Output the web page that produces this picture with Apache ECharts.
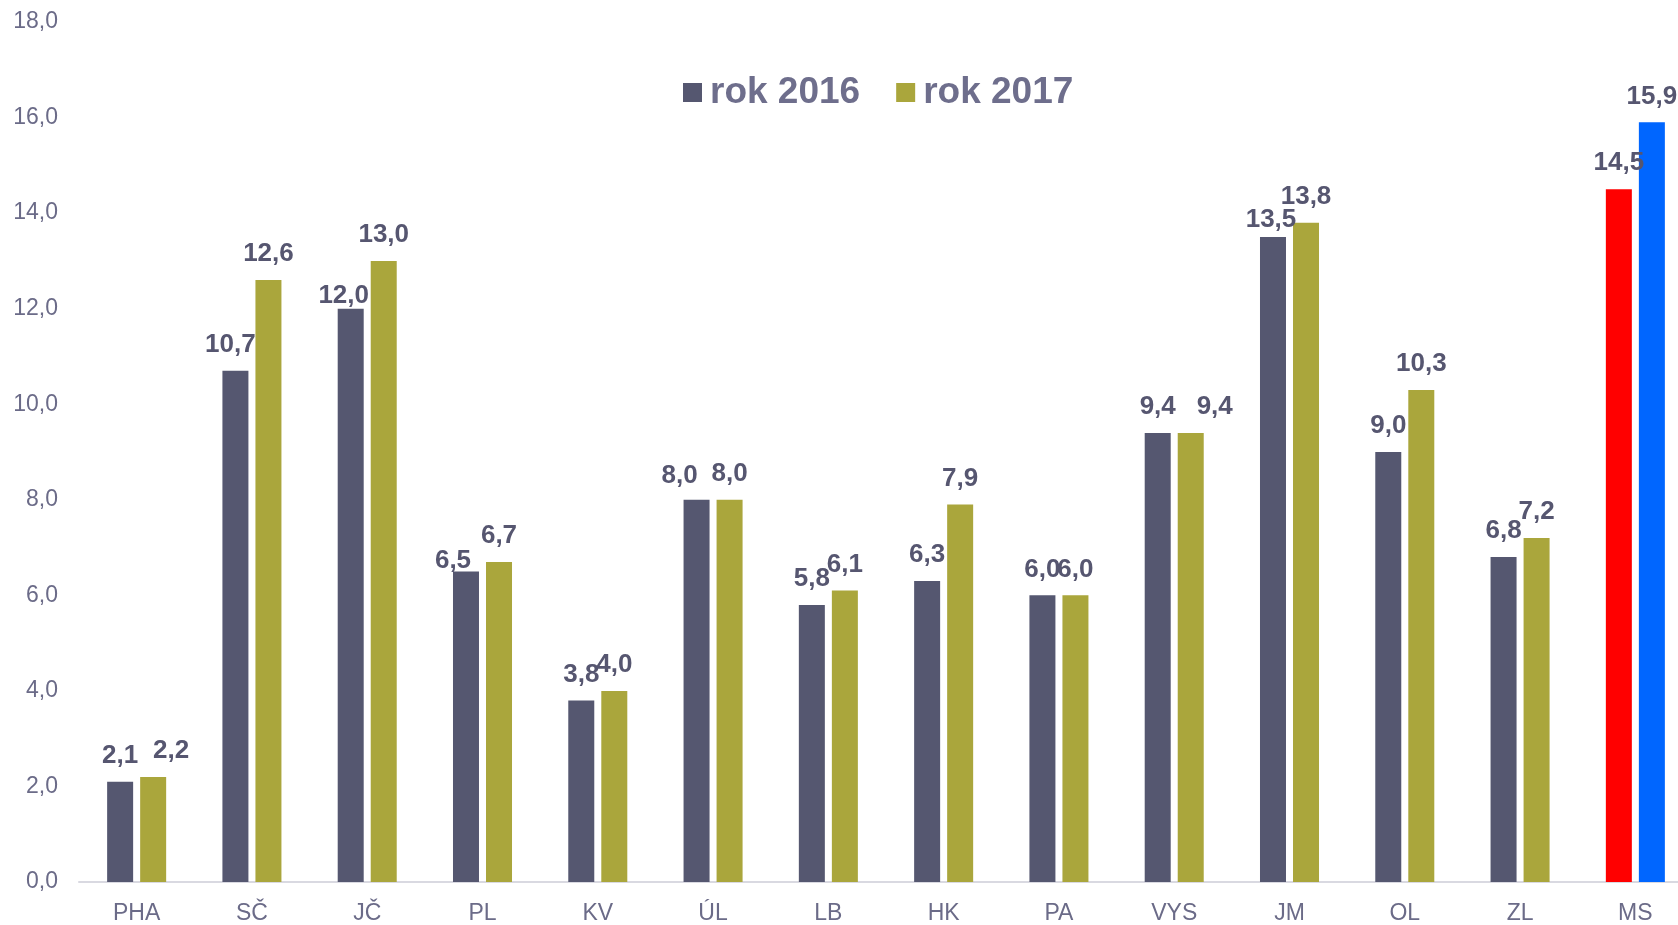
<!DOCTYPE html>
<html>
<head>
<meta charset="utf-8">
<script src="https://cdn.jsdelivr.net/npm/echarts@6/dist/echarts.min.js"></script>
<style>
html,body{margin:0;padding:0;background:#fff;overflow:hidden;}
#chart{width:1700px;height:925px;}
</style>
</head>
<body>
<div id="chart"></div>
<script>
var categories = ['PHA','SČ','JČ','PL','KV','ÚL','LB','HK','PA','VYS','JM','OL','ZL','MS'];
var values2016 = [2.1,10.7,12.0,6.5,3.8,8.0,5.8,6.3,6.0,9.4,13.5,9.0,6.8,14.5];
var values2017 = [2.2,12.6,13.0,6.7,4.0,8.0,6.1,7.9,6.0,9.4,13.8,10.3,7.2,15.9];
var seriesNames = ['rok 2016','rok 2017'];
var yTicks = [0,2,4,6,8,10,12,14,16,18];

// manual label nudges seen in the reference (style only): series -> {categoryIndex: [dx, dy]}
var labelNudges = [
  { 1: [-5, 0], 2: [-7, 13], 3: [-13, 15], 5: [-17, 2], 10: [-2, 9] },
  { 0: [18, 0], 9: [24, 0] }
];
var highlightColors = ['#ff0000', '#0066ff'];

var FONT = '"Liberation Sans", Arial, sans-serif';
var fmt = function (v) { return Number(v).toFixed(1).replace('.', ','); };

function buildData(vals, s) {
  return vals.map(function (v, i) {
    var item = { value: v };
    if (i === vals.length - 1) item.itemStyle = { color: highlightColors[s] };
    if (labelNudges[s][i]) item.label = { offset: labelNudges[s][i] };
    return item;
  });
}

var labelCfg = {
  show: true,
  position: 'top',
  distance: 13,
  fontFamily: FONT,
  fontSize: 26,
  fontWeight: 'bold',
  color: '#565670',
  formatter: function (p) { return fmt(p.value); }
};

var chart = echarts.init(document.getElementById('chart'), null, { renderer: 'canvas' });
chart.setOption({
  animation: false,
  backgroundColor: '#ffffff',
  grid: { left: 79, right: 7, top: 22, bottom: 39.5, containLabel: false },
  legend: {
    data: seriesNames,
    left: 678,
    top: 69,
    icon: 'rect',
    itemWidth: 19,
    itemHeight: 19,
    itemGap: 36,
    textStyle: { fontFamily: FONT, fontSize: 37, fontWeight: 'bold', color: '#6e6e8c', padding: [0, 0, 0, 3] }
  },
  xAxis: {
    type: 'category',
    data: categories,
    axisLine: { lineStyle: { color: '#d9d9e1', width: 2 } },
    axisTick: { show: false },
    axisLabel: { fontFamily: FONT, fontSize: 23, color: '#6b6b88', margin: 20 }
  },
  yAxis: {
    type: 'value',
    min: yTicks[0],
    max: yTicks[yTicks.length - 1],
    interval: yTicks[1] - yTicks[0],
    axisLine: { show: false },
    axisTick: { show: false },
    splitLine: { show: false },
    axisLabel: { fontFamily: FONT, fontSize: 23, color: '#6b6b88', margin: 21, formatter: fmt }
  },
  series: [
    {
      name: seriesNames[0],
      type: 'bar',
      data: buildData(values2016, 0),
      barWidth: 26,
      barGap: '27%',
      itemStyle: { color: '#555770' },
      label: labelCfg
    },
    {
      name: seriesNames[1],
      type: 'bar',
      data: buildData(values2017, 1),
      barWidth: 26,
      barGap: '27%',
      itemStyle: { color: '#aaa63c' },
      label: labelCfg
    }
  ]
});
</script>
</body>
</html>
